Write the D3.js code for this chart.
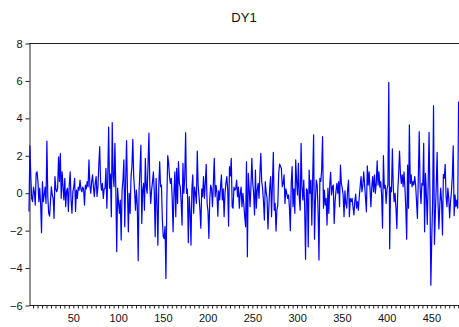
<!DOCTYPE html>
<html>
<head>
<meta charset="utf-8">
<script src="https://cdn.jsdelivr.net/npm/d3@7"></script>
<style>
  body { margin: 0; background: #fff; }
  svg { display: block; font-family: Arial, "Liberation Sans", sans-serif; }
</style>
</head>
<body>
<div id="chart"></div>
<script>
const dy1 = [
  -1.0, 2.5, 0.9, -0.3, -0.48, 0.3, 0.05, -0.66, 1.04, 1.12, 0.6, -0.48, 0.24, -0.6, -2.14, 0.59, -0.48, -0.12, 0.3, -0.57,
  2.76, -0.2, -1.1, -1.25, -0.5, 0.32, -0.12, -0.3, -1.37, 0.86, 0.2, 0.05, 0.23, 1.92, 0.6, 2.1, -0.3, 1.12, 0.3, -0.39,
  0.77, -0.75, 0.1, 0.24, -1.0, 0.41, 1.12, -0.4, -1.1, 0.05, 0.3, 0.77, -1.0, 0.14, -0.3, 0.3, 0.14, 0.68, 0.2, 0.05,
  0.3, 0.2, -0.66, 0.41, 0.2, 0.59, 0.32, 1.75, 0.4, -0.03, 0.59, 0.95, 0.3, -0.21, 0.5, 0.86, -0.2, 0.3, 1.48, 2.46,
  0.6, 0.14, 0.5, -0.3, 0.2, 0.24, 1.3, -0.83, 0.8, 3.5, 0.24, 1.0, -1.28, 3.74, 0.9, 0.32, 2.64, 0.2, -3.15, 0.24,
  -0.5, -1.1, -0.39, -2.53, 0.1, 0.68, 1.75, -1.82, 0.6, 2.78, 0.2, -2.09, -0.03, -1.1, 0.86, 1.4, 2.85, 0.86, 0.1, -0.93,
  0.14, -0.66, -3.63, 0.14, 1.2, 2.55, -1.64, 0.14, 0.5, -0.93, 1.84, 0.3, -0.03, 1.5, 3.18, 0.4, -0.57, 0.14, 0.6, 1.12,
  -0.03, -2.35, 0.77, -0.5, -2.8, 0.3, 1.66, 0.32, 0.41, -1.46, -2.35, -2.44, -1.8, -4.58, -0.5, 1.98, 1.6, 0.86, 0.5, 0.77,
  -0.3, -2.09, 0.05, 1.12, -1.28, 1.3, -0.57, 1.66, 0.5, 0.32, -0.5, -1.73, 1.57, -0.03, 0.8, 3.21, -0.03, 0.2, -2.67, -0.21,
  -1.0, -2.8, 0.2, 0.95, -1.1, 0.3, -0.03, -0.57, 2.23, 0.4, -0.21, -0.93, -1.9, 0.2, -0.21, 0.86, -0.3, 0.5, 1.52, -0.57,
  -1.0, -2.44, -0.3, 0.41, 0.2, -0.75, 0.5, 1.84, -0.21, 0.4, -0.03, -1.25, 0.1, -0.39, 0.3, 0.95, -0.39, 0.2, -1.28, -0.03,
  0.5, 0.86, 0.2, -1.78, 1.39, 0.9, 1.84, -0.75, -0.83, 0.3, 0.14, 0.2, 0.68, -0.21, 0.3, -0.83, -0.03, 0.3, -0.75, -0.03,
  -0.62, -1.28, -1.82, 1.66, -3.42, 1.04, 0.2, -0.75, 0.36, 1.84, 0.5, -0.03, -1.19, 1.21, -0.83, 0.14, 0.5, -0.3, 1.0, 2.1,
  0.6, 0.24, -0.5, -1.46, 0.59, 0.05, -0.3, -1.94, -0.75, 0.3, 0.86, -1.28, 0.5, 2.16, -0.93, -0.57, -2.05, -0.9, -0.66, 1.04,
  1.53, 1.4, 1.3, 0.32, 0.5, 0.95, -0.57, 0.2, -0.03, -0.3, -0.12, -0.8, -2.03, 0.5, 1.39, -0.75, 0.2, -1.1, 1.75, 0.6,
  -0.12, 1.57, -0.3, -0.93, 2.64, 0.3, -0.39, 0.68, -0.75, -3.56, 0.2, 0.14, -2.89, 1.21, -0.03, 0.68, -1.73, 0.8, 3.09, -2.48,
  -0.5, 0.68, 0.4, -1.0, -3.6, 0.77, 0.6, 1.2, 3.0, -0.83, 0.14, -0.66, -0.3, -1.73, 0.24, -1.1, 0.4, 1.09, -0.12, 0.3,
  0.41, -1.64, -0.48, 0.1, 0.5, -0.03, 0.59, -0.75, 1.48, 0.5, 0.24, -0.12, -1.28, 0.1, -0.57, -0.83, 0.2, 0.68, -1.28, -0.3,
  -0.48, -0.3, -0.75, -1.19, -0.48, -0.07, -0.83, -0.48, -0.93, -0.2, 0.32, 0.86, 0.05, 0.41, 1.12, 0.41, -0.3, -1.02, 1.43, 0.41,
  1.12, 0.24, -0.75, 0.3, 0.86, 0.05, 0.95, -0.03, 0.5, 1.7, 0.41, 1.12, 0.3, 0.59, -0.12, -1.9, 1.98, 0.24, 0.4, -0.57,
  0.2, 0.41, 5.9, -3.0, 0.3, 0.05, 2.34, 0.3, -0.48, -0.03, -0.8, -1.91, 0.05, 1.0, 2.23, 1.04, 0.5, 0.95, 0.32, 1.12,
  0.3, -0.83, -2.48, 1.48, -0.83, 3.62, 0.5, 0.95, 0.32, 0.6, 0.41, 0.86, 0.41, -0.5, -1.37, 0.77, 3.26, 0.3, -0.57, 0.5,
  0.4, 2.64, -2.09, 1.04, -0.12, -1.69, 0.5, 3.23, -0.12, -4.94, -2.44, -0.48, 4.65, -2.76, -1.19, 0.3, 2.16, -0.5, -1.94, -0.66,
  0.24, -0.5, -2.26, 0.98, 0.77, 1.52, -0.2, -0.75, 0.24, -0.3, -1.34, -0.48, 0.05, 0.9, 2.51, -1.23, -0.12, -0.75, -0.4, -0.83, 4.87
];
const yTicks = [-6, -4, -2, 0, 2, 4, 6, 8];
const xLabels = [50, 100, 150, 200, 250, 300, 350, 400, 450];
const title = 'DY1';

const W = 459, H = 327;
const margin = { top: 43, right: 0, bottom: 22, left: 29 };

const svg = d3.select('#chart').append('svg')
  .attr('width', W)
  .attr('height', H);

const x = d3.scaleLinear().domain([1, dy1.length]).range([margin.left, 458.6]);
const y = d3.scaleLinear().domain([-6, 8]).range([H - margin.bottom, margin.top]);

svg.append('text')
  .attr('x', 244)
  .attr('y', 22)
  .attr('text-anchor', 'middle')
  .style('font-size', '13px')
  .attr('fill', '#111')
  .text(title);

// frame: top line
svg.append('line')
  .attr('x1', margin.left).attr('x2', W)
  .attr('y1', y(8) + 0.5).attr('y2', y(8) + 0.5)
  .attr('stroke', '#222');

// left axis
const yAxis = svg.append('g')
  .attr('transform', 'translate(' + (margin.left + 0.5) + ',0.5)')
  .call(d3.axisLeft(y).tickValues(yTicks).tickSize(4).tickSizeOuter(0).tickPadding(3));
yAxis.select('.domain').attr('stroke', '#222');
yAxis.selectAll('line').attr('stroke', '#222');
yAxis.selectAll('text').style('font-size', '11px').attr('fill', '#111')
  .attr('font-family', 'Arial, "Liberation Sans", sans-serif');

// bottom axis: minor ticks every 5 obs, labels every 50
const minor = d3.range(5, dy1.length + 1, 5);
const xAxis = svg.append('g')
  .attr('transform', 'translate(0.5,' + (y(-6) + 0.5) + ')')
  .call(d3.axisBottom(x).tickValues(minor).tickSize(3).tickSizeOuter(0).tickPadding(6)
    .tickFormat(d => xLabels.includes(d) ? d : ''));
xAxis.select('.domain').attr('stroke', '#222').attr('d', 'M' + margin.left + ',0H' + W);
xAxis.selectAll('line').attr('stroke', '#222');
xAxis.selectAll('text').style('font-size', '11px').attr('fill', '#111')
  .attr('font-family', 'Arial, "Liberation Sans", sans-serif');

// series line
const line = d3.line()
  .x((d, i) => x(i + 1))
  .y(d => y(d));

svg.append('path')
  .datum(dy1)
  .attr('fill', 'none')
  .attr('stroke', '#0000ff')
  .attr('stroke-width', 1.2)
  .attr('stroke-linejoin', 'round')
  .attr('d', line);
</script>
</body>
</html>
